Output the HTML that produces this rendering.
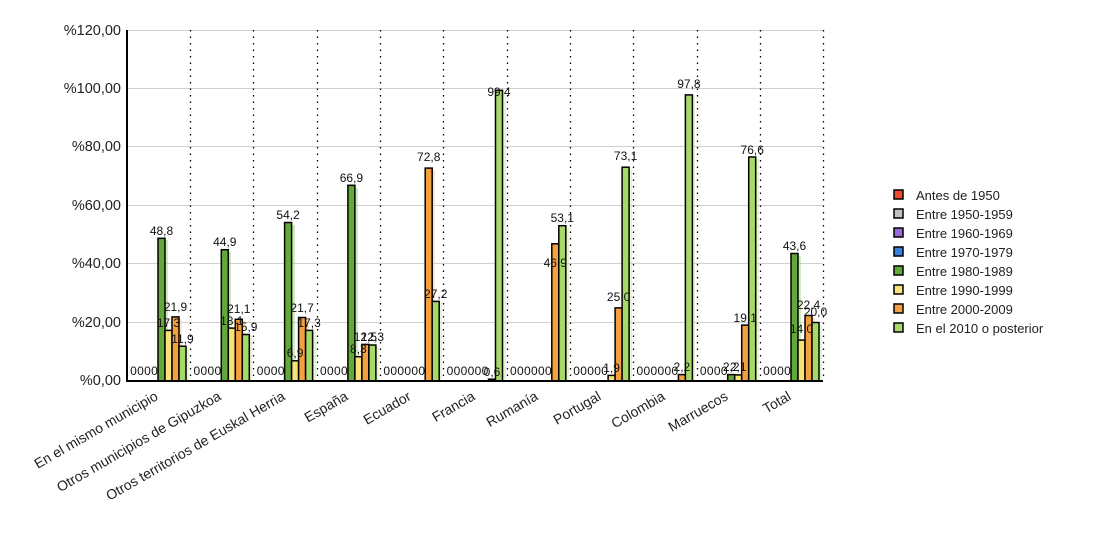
<!DOCTYPE html>
<html><head><meta charset="utf-8"><style>
body{margin:0;background:#fff}
svg{display:block;font-family:"Liberation Sans",Arial,sans-serif}
</style></head><body>
<svg width="1100" height="550" viewBox="0 0 1100 550">
<g stroke="#d0d0d0" stroke-width="1">
<line x1="127" x2="823" y1="30.5" y2="30.5"/><line x1="127" x2="823" y1="88.5" y2="88.5"/><line x1="127" x2="823" y1="146.5" y2="146.5"/><line x1="127" x2="823" y1="205.5" y2="205.5"/><line x1="127" x2="823" y1="263.5" y2="263.5"/><line x1="127" x2="823" y1="322.5" y2="322.5"/>
</g>
<g stroke="#000" stroke-width="1.3" stroke-dasharray="1.5,5">
<line x1="190.5" x2="190.5" y1="30" y2="381"/><line x1="253.5" x2="253.5" y1="30" y2="381"/><line x1="317.5" x2="317.5" y1="30" y2="381"/><line x1="380.5" x2="380.5" y1="30" y2="381"/><line x1="443.5" x2="443.5" y1="30" y2="381"/><line x1="507.5" x2="507.5" y1="30" y2="381"/><line x1="570.5" x2="570.5" y1="30" y2="381"/><line x1="633.5" x2="633.5" y1="30" y2="381"/><line x1="697.5" x2="697.5" y1="30" y2="381"/><line x1="760.5" x2="760.5" y1="30" y2="381"/><line x1="823.5" x2="823.5" y1="30" y2="381"/>
</g>
<g font-size="14.5" text-anchor="end" fill="#222">
<text x="121" y="35">%120,00</text><text x="121" y="93">%100,00</text><text x="121" y="151">%80,00</text><text x="121" y="210">%60,00</text><text x="121" y="268">%40,00</text><text x="121" y="327">%20,00</text><text x="121" y="385">%0,00</text>
</g>
<g opacity="0.45">
<rect x="161" y="240" width="7" height="141" fill="#9fd07a"/><rect x="168" y="332" width="7" height="49" fill="#f7e7a0"/><rect x="175" y="319" width="7" height="62" fill="#f9c98a"/><rect x="182" y="348" width="7" height="33" fill="#c8e8a0"/>
<rect x="224" y="252" width="7" height="129" fill="#9fd07a"/><rect x="238" y="321" width="7" height="60" fill="#f9c98a"/><rect x="245" y="336" width="7" height="45" fill="#c8e8a0"/>
<rect x="288" y="225" width="7" height="156" fill="#9fd07a"/><rect x="302" y="320" width="7" height="61" fill="#f9c98a"/><rect x="309" y="332" width="7" height="49" fill="#c8e8a0"/>
<rect x="351" y="188" width="7" height="193" fill="#9fd07a"/><rect x="365" y="346" width="7" height="35" fill="#f9c98a"/><rect x="372" y="347" width="7" height="34" fill="#c8e8a0"/>
<rect x="428" y="170" width="7" height="211" fill="#f9c98a"/><rect x="435" y="303" width="7" height="78" fill="#c8e8a0"/>
<rect x="499" y="92" width="7" height="289" fill="#c8e8a0"/>
<rect x="555" y="246" width="7" height="135" fill="#f9c98a"/><rect x="562" y="228" width="7" height="153" fill="#c8e8a0"/>
<rect x="618" y="310" width="7" height="71" fill="#f9c98a"/><rect x="625" y="169" width="7" height="212" fill="#c8e8a0"/>
<rect x="688" y="97" width="7" height="284" fill="#c8e8a0"/>
<rect x="745" y="327" width="7" height="54" fill="#f9c98a"/><rect x="752" y="159" width="7" height="222" fill="#c8e8a0"/>
<rect x="794" y="256" width="7" height="125" fill="#9fd07a"/><rect x="808" y="318" width="7" height="63" fill="#f9c98a"/><rect x="815" y="325" width="7" height="56" fill="#c8e8a0"/>
</g>
<g stroke="#000" stroke-width="1.5">
<g transform="translate(127,0)"><rect x="31" y="238.3" width="7" height="142.7" fill="#62a93a"/><rect x="38" y="330.4" width="7" height="50.6" fill="#f7e27a"/><rect x="45" y="316.9" width="7" height="64.1" fill="#f5a040"/><rect x="52" y="346.2" width="7" height="34.8" fill="#a6d86a"/></g>
<g transform="translate(190.3,0)"><rect x="31" y="249.7" width="7" height="131.3" fill="#62a93a"/><rect x="38" y="328.1" width="7" height="52.9" fill="#f7e27a"/><rect x="45" y="319.3" width="7" height="61.7" fill="#f5a040"/><rect x="52" y="334.5" width="7" height="46.5" fill="#a6d86a"/></g>
<g transform="translate(253.6,0)"><rect x="31" y="222.5" width="7" height="158.5" fill="#62a93a"/><rect x="38" y="360.8" width="7" height="20.2" fill="#f7e27a"/><rect x="45" y="317.5" width="7" height="63.5" fill="#f5a040"/><rect x="52" y="330.4" width="7" height="50.6" fill="#a6d86a"/></g>
<g transform="translate(316.9,0)"><rect x="31" y="185.3" width="7" height="195.7" fill="#62a93a"/><rect x="38" y="356.7" width="7" height="24.3" fill="#f7e27a"/><rect x="45" y="344.4" width="7" height="36.6" fill="#f5a040"/><rect x="52" y="345" width="7" height="36" fill="#a6d86a"/></g>
<g transform="translate(380.2,0)"><rect x="45" y="168.1" width="7" height="212.9" fill="#f5a040"/><rect x="52" y="301.4" width="7" height="79.6" fill="#a6d86a"/></g>
<g transform="translate(443.5,0)"><rect x="45" y="379.2" width="7" height="1.8" fill="#f5a040"/><rect x="52" y="90.3" width="7" height="290.7" fill="#a6d86a"/></g>
<g transform="translate(506.8,0)"><rect x="45" y="243.8" width="7" height="137.2" fill="#f5a040"/><rect x="52" y="225.7" width="7" height="155.3" fill="#a6d86a"/></g>
<g transform="translate(570.1,0)"><rect x="38" y="375.4" width="7" height="5.6" fill="#f7e27a"/><rect x="45" y="307.9" width="7" height="73.1" fill="#f5a040"/><rect x="52" y="167.2" width="7" height="213.8" fill="#a6d86a"/></g>
<g transform="translate(633.4,0)"><rect x="45" y="374.6" width="7" height="6.4" fill="#f5a040"/><rect x="52" y="94.9" width="7" height="286.1" fill="#a6d86a"/></g>
<g transform="translate(696.7,0)"><rect x="31" y="374.6" width="7" height="6.4" fill="#62a93a"/><rect x="38" y="374.9" width="7" height="6.1" fill="#f7e27a"/><rect x="45" y="325.1" width="7" height="55.9" fill="#f5a040"/><rect x="52" y="157" width="7" height="224" fill="#a6d86a"/></g>
<g transform="translate(760,0)"><rect x="31" y="253.5" width="7" height="127.5" fill="#62a93a"/><rect x="38" y="340.1" width="7" height="40.9" fill="#f7e27a"/><rect x="45" y="315.5" width="7" height="65.5" fill="#f5a040"/><rect x="52" y="322.5" width="7" height="58.5" fill="#a6d86a"/></g>
</g>
<line x1="127" x2="823" y1="381" y2="381" stroke="#000" stroke-width="2"/>
<line x1="127" x2="127" y1="30" y2="382" stroke="#000" stroke-width="2"/>
<g font-size="12" fill="#111" text-anchor="middle">
<text x="133.5 140.5 147.5 154.5" y="375">0000</text>
<text x="196.8 203.8 210.8 217.8" y="375">0000</text>
<text x="260.1 267.1 274.1 281.1" y="375">0000</text>
<text x="323.4 330.4 337.4 344.4" y="375">0000</text>
<text x="386.7 393.7 400.7 407.7 414.7 421.7" y="375">000000</text>
<text x="450 457 464 471 478 485" y="375">000000</text>
<text x="513.3 520.3 527.3 534.3 541.3 548.3" y="375">000000</text>
<text x="576.6 583.6 590.6 597.6 604.6" y="375">00000</text>
<text x="639.9 646.9 653.9 660.9 667.9 674.9" y="375">000000</text>
<text x="703.2 710.2 717.2 724.2" y="375">0000</text>
<text x="766.5 773.5 780.5 787.5" y="375">0000</text>
<text x="161.5" y="235">48,8</text><text x="168.5" y="327">17,3</text><text x="175.5" y="311">21,9</text><text x="182.5" y="343">11,9</text>
<text x="224.8" y="246">44,9</text><text x="231.8" y="325">18,1</text><text x="238.8" y="313">21,1</text><text x="245.8" y="331">15,9</text>
<text x="288.1" y="219">54,2</text><text x="295.1" y="357">6,9</text><text x="302.1" y="312">21,7</text><text x="309.1" y="327">17,3</text>
<text x="351.4" y="182">66,9</text><text x="358.4" y="353">8,3</text><text x="365.4" y="341">12,5</text><text x="372.4" y="341">12,3</text>
<text x="428.7" y="161">72,8</text><text x="435.7" y="298">27,2</text>
<text x="492" y="376">0,6</text><text x="499" y="96">99,4</text>
<text x="555.3" y="267">46,9</text><text x="562.3" y="222">53,1</text>
<text x="611.6" y="372">1,9</text><text x="618.6" y="301">25,0</text><text x="625.6" y="160">73,1</text>
<text x="681.9" y="371">2,2</text><text x="688.9" y="88">97,8</text>
<text x="731.2" y="371">2,2</text><text x="738.2" y="371">2,1</text><text x="745.2" y="322">19,1</text><text x="752.2" y="154">76,6</text>
<text x="794.5" y="250">43,6</text><text x="801.5" y="333">14,0</text><text x="808.5" y="309">22,4</text><text x="815.5" y="316">20,0</text>
</g>
<g font-size="14" fill="#222" text-anchor="end">
<text transform="translate(159,399) rotate(-30)">En el mismo municipio</text>
<text transform="translate(222,399) rotate(-30)">Otros municipios de Gipuzkoa</text>
<text transform="translate(286,399) rotate(-30)">Otros territorios de Euskal Herria</text>
<text transform="translate(349,399) rotate(-30)">España</text>
<text transform="translate(412,399) rotate(-30)">Ecuador</text>
<text transform="translate(476,399) rotate(-30)">Francia</text>
<text transform="translate(539,399) rotate(-30)">Rumanía</text>
<text transform="translate(602,399) rotate(-30)">Portugal</text>
<text transform="translate(666,399) rotate(-30)">Colombia</text>
<text transform="translate(729,399) rotate(-30)">Marruecos</text>
<text transform="translate(792,399) rotate(-30)">Total</text>
</g>
<g stroke="#000" stroke-width="1.5">
<rect x="894" y="190" width="9" height="9" fill="#ee4a2e"/>
<rect x="894" y="209" width="9" height="9" fill="#c0c0c0"/>
<rect x="894" y="228" width="9" height="9" fill="#9a6ad8"/>
<rect x="894" y="247" width="9" height="9" fill="#3a7ee0"/>
<rect x="894" y="266" width="9" height="9" fill="#62a93a"/>
<rect x="894" y="285" width="9" height="9" fill="#f7e27a"/>
<rect x="894" y="304" width="9" height="9" fill="#f5a040"/>
<rect x="894" y="323" width="9" height="9" fill="#a6d86a"/>
</g>
<g font-size="13" fill="#222">
<text x="916" y="200">Antes de 1950</text>
<text x="916" y="219">Entre 1950-1959</text>
<text x="916" y="238">Entre 1960-1969</text>
<text x="916" y="257">Entre 1970-1979</text>
<text x="916" y="276">Entre 1980-1989</text>
<text x="916" y="295">Entre 1990-1999</text>
<text x="916" y="314">Entre 2000-2009</text>
<text x="916" y="333">En el 2010 o posterior</text>
</g>
</svg>
</body></html>
